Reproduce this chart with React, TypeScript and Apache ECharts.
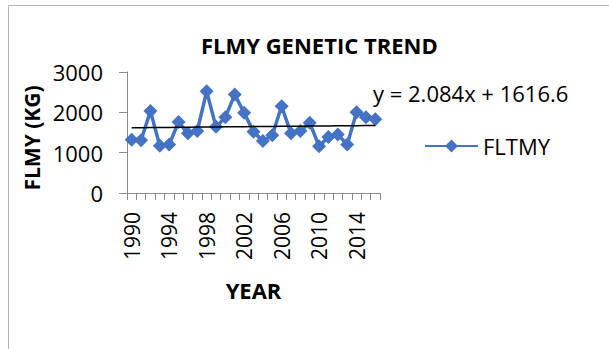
import React, { useEffect, useRef } from "react";
import * as echarts from "echarts";

const years = [
  "1990", "1991", "1992", "1993", "1994", "1995", "1996", "1997", "1998", "1999",
  "2000", "2001", "2002", "2003", "2004", "2005", "2006", "2007", "2008", "2009",
  "2010", "2011", "2012", "2013", "2014", "2015", "2016",
];
const fltmy = [
  1320, 1310, 2030, 1170, 1200, 1760, 1480, 1540, 2520, 1640,
  1880, 2440, 1990, 1520, 1290, 1430, 2150, 1480, 1540, 1740,
  1160, 1390, 1450, 1200, 2000, 1880, 1830,
];
const trendSlope = 2.084;
const trendIntercept = 1616.6;
const trendLabel = "y = 2.084x + 1616.6";
const titleText = "FLMY GENETIC TREND";
const yName = "FLMY (KG)";
const xName = "YEAR";
const seriesName = "FLTMY";

const FONT = "'Open Sans', 'Liberation Sans', sans-serif";

export default function App() {
  const ref = useRef<HTMLDivElement>(null);
  useEffect(() => {
    if (!ref.current) return;
    const chart = echarts.init(ref.current, null, { renderer: "svg" });
    const trend = years.map((_, i) => +(trendSlope * (i + 1) + trendIntercept).toFixed(2));
    chart.setOption({
      animation: false,
      backgroundColor: "#ffffff",
      textStyle: { fontFamily: FONT },
      title: {
        text: titleText,
        left: 196,
        top: 29,
        textStyle: { fontFamily: FONT, fontWeight: "bold", fontSize: 22, color: "#000" },
      },
      grid: { left: 127, right: 229, top: 72, bottom: 156, containLabel: false },
      legend: {
        data: [{ name: seriesName }],
        left: 419,
        top: 130,
        itemWidth: 53,
        itemHeight: 16,
        itemGap: 5,
        textStyle: { fontFamily: FONT, fontSize: 22, color: "#000" },
      },
      xAxis: {
        type: "category",
        data: years,
        boundaryGap: true,
        name: xName,
        nameLocation: "middle",
        nameGap: 86,
        nameTextStyle: { fontFamily: FONT, fontWeight: "bold", fontSize: 22, color: "#000" },
        axisLine: { lineStyle: { color: "#8c8c8c", width: 1 } },
        axisTick: { show: true, interval: 0, length: 7, lineStyle: { color: "#8c8c8c" } },
        axisLabel: {
          interval: 3,
          rotate: 90,
          margin: 19,
          fontFamily: FONT,
          fontSize: 21,
          color: "#000",
        },
        splitLine: { show: false },
      },
      yAxis: {
        type: "value",
        min: 0,
        max: 3000,
        interval: 1000,
        axisLine: { show: true, lineStyle: { color: "#8c8c8c", width: 1 } },
        axisTick: { show: true, length: 8, lineStyle: { color: "#8c8c8c" } },
        axisLabel: {
          margin: 24,
          fontFamily: FONT,
          fontSize: 22,
          color: "#000",
          formatter: (v: number) => String(v),
        },
        splitLine: { show: false },
      },
      graphic: [
        {
          type: "rect",
          shape: { x: 8.5, y: 5.5, width: 700, height: 400 },
          style: { fill: "none", stroke: "#b5b5b5", lineWidth: 1 },
          silent: true,
        },
        {
          type: "text",
          x: 32,
          y: 138,
          rotation: Math.PI / 2,
          style: {
            text: yName,
            fontFamily: FONT,
            fontWeight: "bold",
            fontSize: 21,
            fill: "#000",
            align: "center",
            verticalAlign: "middle",
          },
        },
        {
          type: "text",
          left: 373,
          top: 82,
          style: { text: trendLabel, fontFamily: FONT, fontSize: 22, fill: "#000" },
        },
      ],
      series: [
        {
          name: seriesName,
          type: "line",
          data: fltmy,
          symbol: "diamond",
          symbolSize: 14,
          showAllSymbol: true,
          lineStyle: { color: "#4472C4", width: 3.5 },
          itemStyle: { color: "#4472C4" },
          z: 3,
        },
        {
          name: "trend",
          type: "line",
          data: trend,
          symbol: "none",
          lineStyle: { color: "#000", width: 1.5 },
          z: 4,
          silent: true,
        },
      ],
    });
    return () => chart.dispose();
  }, []);
  return <div ref={ref} style={{ width: 609, height: 349, position: "absolute", left: 0, top: 0 }} />;
}
